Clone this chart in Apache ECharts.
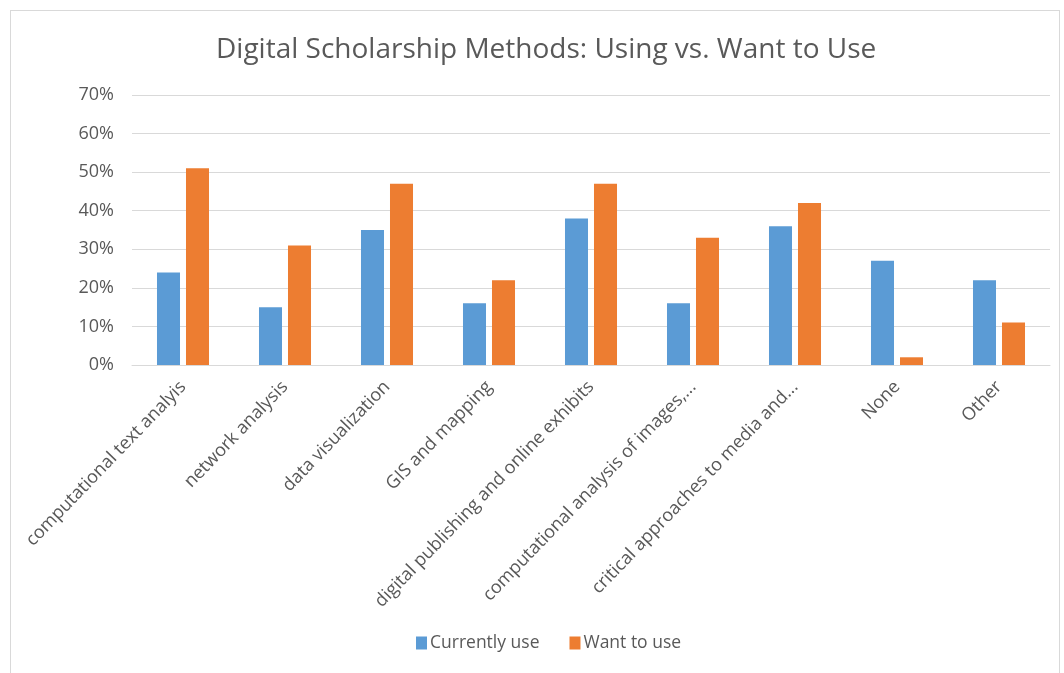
<!DOCTYPE html>
<html style="height: 100%">
   <head>
       <meta charset="utf-8">
   </head>
   <body style="height: 100%; margin: 0; background: #fff">
       <div id="frame" style="position:absolute; left:10px; top:10px; width:1050px; height:670px; border:1px solid #d9d9d9; border-bottom:none; box-sizing:border-box"></div>
       <div id="container" style="position:absolute; left:0; top:0; width:1064px; height:673px"></div>
       <script type="text/javascript" src="https://cdn.jsdelivr.net/npm/echarts@6/dist/echarts.min.js"></script>
       <script type="text/javascript">
var categories = ['computational text analyis', 'network analysis', 'data visualization', 'GIS and mapping',
    'digital publishing and online exhibits', 'computational analysis of images,...',
    'critical approaches to media and...', 'None', 'Other'];
var currentlyUse = [24, 15, 35, 16, 38, 16, 36, 27, 22];
var wantToUse = [51, 31, 47, 22, 47, 33, 42, 2, 11];
var yTicks = [0, 10, 20, 30, 40, 50, 60, 70];

var dom = document.getElementById("container");
var myChart = echarts.init(dom);
var font = 'Open Sans';

var option = {
    animation: false,
    title: {
        text: 'Digital Scholarship Methods: Using vs. Want to Use',
        left: 211,
        top: 31,
        textStyle: { fontFamily: font, fontSize: 28, fontWeight: 'normal', color: '#595959' }
    },
    legend: {
        bottom: 16,
        left: 411,
        itemWidth: 11,
        itemHeight: 13,
        itemGap: 30,
        icon: 'rect',
        textStyle: { fontFamily: font, fontSize: 17.5, color: '#595959', padding: [0, 0, 0, -2] },
        data: ['Currently use', 'Want to use']
    },
    grid: { left: 132, right: 14, top: 95, bottom: 308 },
    xAxis: {
        type: 'category',
        data: categories,
        axisTick: { show: false },
        axisLine: { lineStyle: { color: '#d9d9d9' } },
        axisLabel: {
            rotate: 46,
            interval: 0,
            margin: 19,
            fontFamily: font,
            fontSize: 18,
            color: '#595959'
        }
    },
    yAxis: {
        type: 'value',
        min: yTicks[0],
        max: yTicks[yTicks.length - 1],
        interval: 10,
        axisLine: { show: false },
        axisTick: { show: false },
        splitLine: { lineStyle: { color: '#d9d9d9' } },
        axisLabel: {
            margin: 18,
            fontFamily: font,
            fontSize: 18,
            color: '#595959',
            formatter: '{value}%'
        }
    },
    series: [
        {
            name: 'Currently use',
            type: 'bar',
            data: currentlyUse,
            barGap: '26%',
            barCategoryGap: '49%',
            itemStyle: { color: '#5b9bd5' }
        },
        {
            name: 'Want to use',
            type: 'bar',
            data: wantToUse,
            itemStyle: { color: '#ed7d31' }
        }
    ]
};

if (option && typeof option === "object") {
    myChart.setOption(option, true);
}
       </script>
   </body>
</html>
